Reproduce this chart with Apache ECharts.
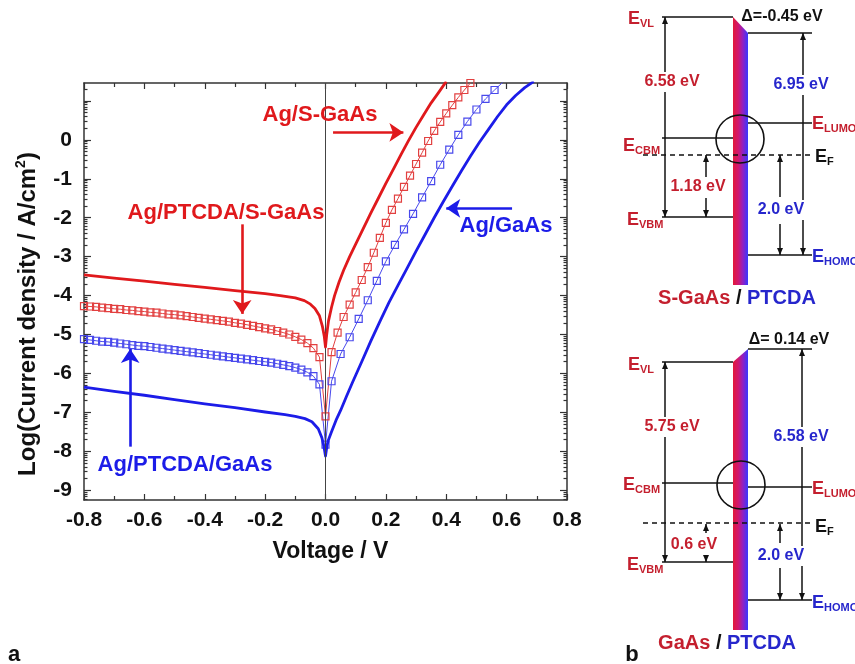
<!DOCTYPE html>
<html>
<head>
<meta charset="utf-8">
<script src="https://cdn.jsdelivr.net/npm/echarts@6/dist/echarts.min.js"></script>
<style>html,body{margin:0;padding:0;background:#fff}#c{width:855px;height:664px}</style>
</head>
<body>
<div id="c"></div>
<script>
// ---------------- data ----------------
const X_TICK_LABELS = [-0.8, -0.6, -0.4, -0.2, 0.0, 0.2, 0.4, 0.6, 0.8];
const Y_TICK_LABELS = [-9, -8, -7, -6, -5, -4, -3, -2, -1, 0];
const Y_TICKS = [-9, -8, -7, -6, -5, -4, -3, -2, -1, 0, 1];

// Ag/S-GaAs (red solid)
const RS_X = [-0.80,-0.70,-0.60,-0.50,-0.40,-0.30,-0.20,-0.15,-0.10,-0.07,-0.05,-0.035,-0.02,-0.01,-0.004,0,0.004,0.01,0.02,0.03,0.045,0.06,0.08,0.10,0.125,0.15,0.175,0.20,0.225,0.25,0.275,0.30,0.325,0.35,0.375,0.40];
const RS_Y = [-3.47,-3.55,-3.63,-3.71,-3.79,-3.87,-3.95,-4.00,-4.06,-4.13,-4.22,-4.33,-4.52,-4.80,-5.05,-5.32,-5.00,-4.65,-4.30,-4.00,-3.65,-3.35,-3.00,-2.68,-2.28,-1.88,-1.50,-1.12,-0.75,-0.38,-0.02,0.32,0.64,0.95,1.22,1.50];

// Ag/PTCDA/S-GaAs (red squares)
const RQ_X = [-0.80,-0.78,-0.76,-0.74,-0.72,-0.70,-0.68,-0.66,-0.64,-0.62,-0.60,-0.58,-0.56,-0.54,-0.52,-0.50,-0.48,-0.46,-0.44,-0.42,-0.40,-0.38,-0.36,-0.34,-0.32,-0.30,-0.28,-0.26,-0.24,-0.22,-0.20,-0.18,-0.16,-0.14,-0.12,-0.10,-0.08,-0.06,-0.04,-0.02,0.00,
  0.02,0.04,0.06,0.08,0.10,0.12,0.14,0.16,0.18,0.20,0.22,0.24,0.26,0.28,0.30,0.32,0.34,0.36,0.38,0.40,0.42,0.44,0.46,0.48,0.50];
const RQ_Y = [-4.27,-4.28,-4.29,-4.31,-4.32,-4.34,-4.35,-4.37,-4.38,-4.40,-4.41,-4.43,-4.44,-4.46,-4.48,-4.49,-4.51,-4.53,-4.55,-4.57,-4.59,-4.61,-4.63,-4.65,-4.67,-4.70,-4.72,-4.75,-4.78,-4.81,-4.84,-4.87,-4.91,-4.95,-5.00,-5.06,-5.13,-5.22,-5.35,-5.58,-7.10,
  -5.45,-4.95,-4.55,-4.23,-3.92,-3.60,-3.27,-2.90,-2.52,-2.13,-1.80,-1.51,-1.21,-0.92,-0.62,-0.33,-0.03,0.23,0.46,0.68,0.89,1.09,1.28,1.46,1.62];

// Ag/PTCDA/GaAs (blue squares)
const BQ_X = [-0.80,-0.78,-0.76,-0.74,-0.72,-0.70,-0.68,-0.66,-0.64,-0.62,-0.60,-0.58,-0.56,-0.54,-0.52,-0.50,-0.48,-0.46,-0.44,-0.42,-0.40,-0.38,-0.36,-0.34,-0.32,-0.30,-0.28,-0.26,-0.24,-0.22,-0.20,-0.18,-0.16,-0.14,-0.12,-0.10,-0.08,-0.06,-0.04,-0.02,0.00,
  0.02,0.05,0.08,0.11,0.14,0.17,0.20,0.23,0.26,0.29,0.32,0.35,0.38,0.41,0.44,0.47,0.50,0.53,0.56,0.59];
const BQ_Y = [-5.12,-5.14,-5.16,-5.18,-5.19,-5.21,-5.23,-5.25,-5.27,-5.29,-5.30,-5.32,-5.34,-5.36,-5.38,-5.40,-5.42,-5.44,-5.46,-5.48,-5.50,-5.52,-5.54,-5.56,-5.58,-5.60,-5.62,-5.64,-5.66,-5.68,-5.70,-5.72,-5.75,-5.78,-5.81,-5.85,-5.90,-5.97,-6.07,-6.28,-7.83,
  -6.20,-5.50,-5.07,-4.60,-4.12,-3.62,-3.12,-2.70,-2.30,-1.90,-1.48,-1.06,-0.64,-0.25,0.13,0.47,0.78,1.05,1.28,1.50];

// Ag/GaAs (blue solid)
const BS_X = [-0.8,-0.7,-0.6,-0.5,-0.4,-0.3,-0.2,-0.134,-0.1,-0.068,-0.045,-0.024,-0.012,-0.005,0,0.005,0.01,0.02,0.035,0.05,0.07,0.09,0.12,0.15,0.18,0.21,0.24,0.27,0.3,0.33,0.36,0.39,0.42,0.45,0.48,0.51,0.54,0.57,0.6,0.63,0.66,0.69];
const BS_Y = [-6.35,-6.46,-6.56,-6.67,-6.78,-6.88,-6.99,-7.06,-7.1,-7.16,-7.24,-7.42,-7.65,-7.88,-8.12,-7.85,-7.7,-7.5,-7.2,-6.95,-6.58,-6.22,-5.7,-5.17,-4.67,-4.18,-3.74,-3.3,-2.86,-2.43,-2.0,-1.59,-1.19,-0.8,-0.42,-0.06,0.27,0.6,0.9,1.14,1.34,1.5];

const SERIES_NAMES = ['Ag/S-GaAs', 'Ag/PTCDA/S-GaAs', 'Ag/PTCDA/GaAs', 'Ag/GaAs'];

// annotation arrows [x1, y1, x2, y2] in data units
const ARROW_RS = [0.025, 0.19, 0.258, 0.19];
const ARROW_RQ = [-0.276, -2.17, -0.276, -4.47];
const ARROW_BS = [0.618, -1.76, 0.40, -1.76];
const ARROW_BQ = [-0.647, -7.88, -0.647, -5.37];

// ---------------- chart ----------------
const FONT = '"Liberation Sans", Arial, Helvetica, sans-serif';
const RED = '#e0191c', RED_L = '#e24040', BLUE = '#1c1ce8', BLUE_L = '#4848ec';
const zip = (xs, ys) => xs.map((x, i) => [x, ys[i]]);

// log-style minor ticks between integer decades
const minorVals = [];
for (let k = -10; k <= 1; k++) for (let m = 2; m <= 9; m++) {
  const v = k + Math.log10(m);
  if (v > -9.25 && v < 1.46) minorVals.push(v);
}

const axisCol = '#333';
function yAx(pos, labels, ticks, len, showLine) {
  return {
    type: 'value', min: -9.25, max: 1.46, position: pos,
    axisLine: { show: showLine, onZero: false, lineStyle: { color: axisCol, width: 1.5 } },
    axisTick: { show: true, inside: true, length: len, customValues: ticks, lineStyle: { color: axisCol, width: 1.2 } },
    axisLabel: labels ? { show: true, customValues: Y_TICK_LABELS, fontSize: 21, fontWeight: 'bold', color: '#111', fontFamily: FONT, margin: 12, formatter: v => String(Math.round(v)) } : { show: false },
    splitLine: { show: false }
  };
}
function xAx(pos, labels) {
  return {
    type: 'value', min: -0.8, max: 0.8, interval: 0.2, position: pos,
    axisLine: { onZero: false, lineStyle: { color: axisCol, width: 1.5 } },
    axisTick: { inside: true, length: 6, lineStyle: { color: axisCol, width: 1.2 } },
    minorTick: { show: true, splitNumber: 2, length: 4, lineStyle: { color: axisCol, width: 1.2 } },
    splitLine: { show: false }, minorSplitLine: { show: false },
    axisLabel: labels ? { fontSize: 21, fontWeight: 'bold', color: '#111', fontFamily: FONT, margin: 10,
      formatter: v => { const r = X_TICK_LABELS.find(t => Math.abs(t - v) < 1e-6); return r === undefined ? '' : r.toFixed(1); } } : { show: false },
    name: labels ? 'Voltage / V' : '', nameLocation: 'middle', nameGap: 40,
    nameTextStyle: { fontSize: 23, fontWeight: 'bold', color: '#111', fontFamily: FONT, padding: [0, 0, 0, 10] }
  };
}

function arrowLine(a, color) {
  return [{ coord: [a[0], a[1]], symbol: 'none' }, { coord: [a[2], a[3]], symbol: 'arrow', symbolSize: 14, lineStyle: { color: color, width: 2.6, type: 'solid' } }];
}

const yAxes = [yAx('left', true, Y_TICKS, 7, true), yAx('right', false, Y_TICKS, 7, true),
  yAx('left', false, minorVals, 3.5, false), yAx('right', false, minorVals, 3.5, false)];

// ---------------- panel b (schematic band diagrams) ----------------
const RED_B = '#c41f2e', BLUE_B = '#2626cc';
const G = [];
function ln(x1, y1, x2, y2, extra) { G.push(Object.assign({ type: 'line', z: 10, shape: { x1, y1, x2, y2 }, style: Object.assign({ stroke: '#111', lineWidth: 1.5 }, extra || {}) })); }
function head(x, y, dir) { const s = dir === 'up' ? 1 : -1; G.push({ type: 'polygon', z: 11, shape: { points: [[x, y], [x - 3, y + 7 * s], [x + 3, y + 7 * s]] }, style: { fill: '#111' } }); }
function tx(x, y, text, color, size, align, extra) {
  G.push({ type: 'text', z: 12, x, y, style: Object.assign({ text, fill: color, fontSize: size, fontWeight: 'bold', fontFamily: FONT,
    align: align || 'center', verticalAlign: 'middle', textAlign: align || 'center', textVerticalAlign: 'middle' }, extra || {}) });
}
function eLab(x, y, sub, color) { tx(x, y, 'E', color, 18, 'left'); tx(x + 12, y + 5, sub, color, 11, 'left'); }
function bar(yl, yr, yb) {
  G.push({ type: 'polygon', z: 5, shape: { points: [[733, yl], [748, yr], [748, yb], [733, yb]] },
    style: { fill: new echarts.graphic.LinearGradient(0, 0, 1, 0, [{ offset: 0, color: '#e2183a' }, { offset: 0.35, color: '#d0186e' }, { offset: 0.65, color: '#9420c0' }, { offset: 1, color: '#3838ff' }]) } });
}
const WBG = { backgroundColor: '#fff', padding: [2, 1] };

// top diagram
bar(17, 33, 285);
ln(662, 17, 733, 17); ln(662, 138, 733, 138); ln(662, 217, 733, 217);
ln(748, 33, 812, 33); ln(748, 123, 812, 123); ln(748, 255, 812, 255);
ln(643, 155, 812, 155, { lineDash: [5, 4] });
ln(665, 17, 665, 217); head(665, 17, 'up'); head(665, 217, 'down');
ln(803, 33, 803, 255); head(803, 33, 'up'); head(803, 255, 'down');
ln(706, 155, 706, 177); head(706, 155, 'up'); ln(706, 198, 706, 217); head(706, 217, 'down');
ln(780, 155, 780, 197); head(780, 155, 'up'); ln(780, 224, 780, 255); head(780, 255, 'down');
G.push({ type: 'circle', z: 13, shape: { cx: 740, cy: 139, r: 24 }, style: { fill: 'none', stroke: '#111', lineWidth: 1.6 } });
tx(672, 82, '6.58 eV', RED_B, 16, 'center', WBG);
tx(801, 85, '6.95 eV', BLUE_B, 16, 'center', WBG);
tx(698, 187, '1.18 eV', RED_B, 16, 'center', WBG);
tx(781, 210, '2.0 eV', BLUE_B, 16, 'center', WBG);
tx(782, 17, 'Δ=-0.45 eV', '#111', 16, 'center');
eLab(628, 19, 'VL', RED_B); eLab(623, 146, 'CBM', RED_B); eLab(627, 220, 'VBM', RED_B);
eLab(812, 124, 'LUMO', RED_B); eLab(812, 257, 'HOMO', BLUE_B); eLab(815, 157, 'F', '#111');
G.push({ type: 'text', z: 12, x: 737, y: 298, style: { text: '{r|S-GaAs}{k| / }{b|PTCDA}', align: 'center', verticalAlign: 'middle', textAlign: 'center', textVerticalAlign: 'middle',
  rich: { r: { fill: RED_B, fontSize: 20, fontWeight: 'bold', fontFamily: FONT }, k: { fill: '#111', fontSize: 20, fontWeight: 'bold', fontFamily: FONT }, b: { fill: BLUE_B, fontSize: 20, fontWeight: 'bold', fontFamily: FONT } } } });

// bottom diagram
bar(362, 349, 630);
ln(662, 362, 733, 362); ln(662, 483, 733, 483); ln(662, 562, 733, 562);
ln(748, 349, 812, 349); ln(748, 487, 812, 487); ln(748, 600, 812, 600);
ln(643, 523, 812, 523, { lineDash: [5, 4] });
ln(665, 362, 665, 562); head(665, 362, 'up'); head(665, 562, 'down');
ln(802, 349, 802, 600); head(802, 349, 'up'); head(802, 600, 'down');
ln(706, 524, 706, 533); head(706, 524, 'up'); ln(706, 554, 706, 562); head(706, 562, 'down');
ln(780, 524, 780, 543); head(780, 524, 'up'); ln(780, 568, 780, 600); head(780, 600, 'down');
G.push({ type: 'circle', z: 13, shape: { cx: 741, cy: 485, r: 24 }, style: { fill: 'none', stroke: '#111', lineWidth: 1.6 } });
tx(672, 427, '5.75 eV', RED_B, 16, 'center', WBG);
tx(801, 437, '6.58 eV', BLUE_B, 16, 'center', WBG);
tx(694, 545, '0.6 eV', RED_B, 16, 'center', WBG);
tx(781, 556, '2.0 eV', BLUE_B, 16, 'center', WBG);
tx(789, 340, 'Δ= 0.14 eV', '#111', 16, 'center');
eLab(628, 365, 'VL', RED_B); eLab(623, 485, 'CBM', RED_B); eLab(627, 565, 'VBM', RED_B);
eLab(812, 489, 'LUMO', RED_B); eLab(812, 603, 'HOMO', BLUE_B); eLab(815, 527, 'F', '#111');
G.push({ type: 'text', z: 12, x: 727, y: 643, style: { text: '{r|GaAs}{k| / }{b|PTCDA}', align: 'center', verticalAlign: 'middle', textAlign: 'center', textVerticalAlign: 'middle',
  rich: { r: { fill: RED_B, fontSize: 20, fontWeight: 'bold', fontFamily: FONT }, k: { fill: '#111', fontSize: 20, fontWeight: 'bold', fontFamily: FONT }, b: { fill: BLUE_B, fontSize: 20, fontWeight: 'bold', fontFamily: FONT } } } });

// y-axis title (rotated, with superscript)
G.push({ type: 'text', z: 12, x: 28, y: 314, rotation: Math.PI / 2, style: {
  text: '{b|Log(Current density / A/cm}{s|2}{b|)}', align: 'center', verticalAlign: 'middle', textAlign: 'center', textVerticalAlign: 'middle',
  rich: { b: { fontSize: 24, fontWeight: 'bold', fill: '#111', fontFamily: FONT, lineHeight: 28 },
          s: { fontSize: 14, fontWeight: 'bold', fill: '#111', fontFamily: FONT, verticalAlign: 'top', lineHeight: 15 } } } });

// panel letters and panel-a annotations
tx(14, 655, 'a', '#111', 22, 'center');
tx(632, 655, 'b', '#111', 22, 'center');
tx(320, 115, SERIES_NAMES[0], RED, 22, 'center');
tx(226, 213, SERIES_NAMES[1], RED, 22, 'center');
tx(185, 465, SERIES_NAMES[2], BLUE, 22, 'center');
tx(506, 226, SERIES_NAMES[3], BLUE, 22, 'center');

const chart = echarts.init(document.getElementById('c'), null, { renderer: 'canvas' });
chart.setOption({
  animation: false,
  backgroundColor: '#fff',
  grid: { left: 84, top: 83, width: 483, height: 417, containLabel: false },
  xAxis: [xAx('bottom', true), xAx('top', false)],
  yAxis: yAxes,
  series: [
    { name: SERIES_NAMES[2], type: 'line', data: zip(BQ_X, BQ_Y), symbol: 'rect', symbolSize: 7, showAllSymbol: true, silent: true, z: 3,
      itemStyle: { color: 'rgba(255,255,255,0)', borderColor: BLUE_L, borderWidth: 1.2 }, lineStyle: { color: BLUE_L, width: 1 },
      emphasis: { disabled: true },
      markLine: { silent: true, symbol: ['none', 'none'], label: { show: false }, lineStyle: { color: '#444', width: 1, type: 'solid' }, data: [{ xAxis: 0 }], emphasis: { disabled: true } } },
    { name: SERIES_NAMES[1], type: 'line', data: zip(RQ_X, RQ_Y), symbol: 'rect', symbolSize: 7, showAllSymbol: true, silent: true, z: 3,
      itemStyle: { color: 'rgba(255,255,255,0)', borderColor: RED_L, borderWidth: 1.2 }, lineStyle: { color: RED_L, width: 1 },
      emphasis: { disabled: true } },
    { name: SERIES_NAMES[3], type: 'line', data: zip(BS_X, BS_Y), showSymbol: false, silent: true, z: 4,
      lineStyle: { color: BLUE, width: 2.8, join: 'round' }, itemStyle: { color: BLUE }, emphasis: { disabled: true },
      markLine: { silent: true, symbol: ['none', 'arrow'], symbolSize: 14, label: { show: false }, lineStyle: { color: BLUE, width: 2.6, type: 'solid' },
        data: [arrowLine(ARROW_BS, BLUE), arrowLine(ARROW_BQ, BLUE)], emphasis: { disabled: true } } },
    { name: SERIES_NAMES[0], type: 'line', data: zip(RS_X, RS_Y), showSymbol: false, silent: true, z: 5,
      lineStyle: { color: RED, width: 2.8, join: 'round' }, itemStyle: { color: RED }, emphasis: { disabled: true },
      markLine: { silent: true, symbol: ['none', 'arrow'], symbolSize: 14, label: { show: false }, lineStyle: { color: RED, width: 2.6, type: 'solid' },
        data: [arrowLine(ARROW_RS, RED), arrowLine(ARROW_RQ, RED)], emphasis: { disabled: true } } }
  ],
  graphic: { elements: G }
});
</script>
</body>
</html>
